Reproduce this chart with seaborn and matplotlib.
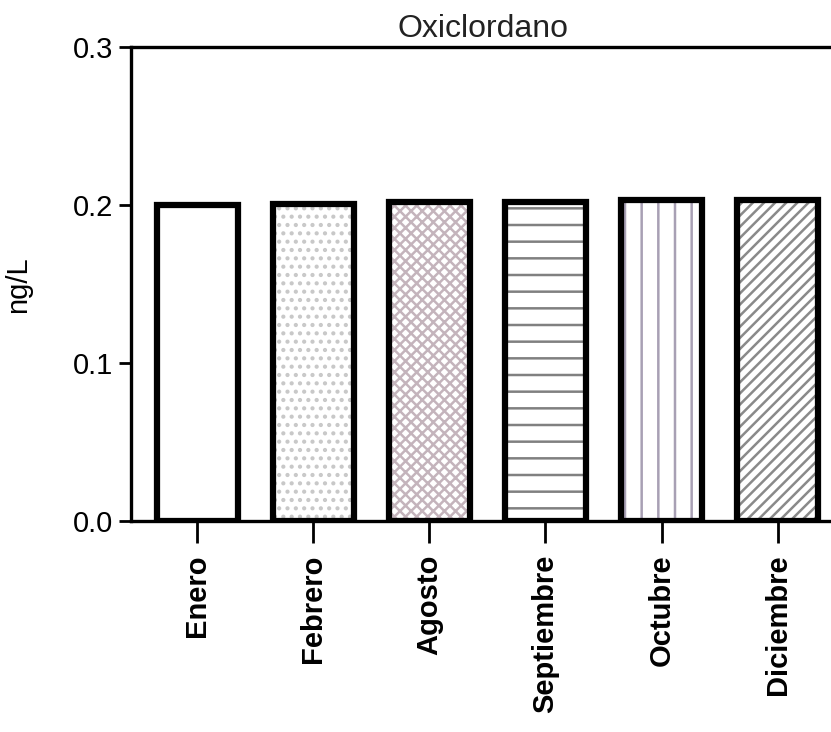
import pandas as pd
import seaborn as sns
import matplotlib.pyplot as plt

# datos
meses = ["Enero", "Febrero", "Agosto", "Septiembre", "Octubre", "Diciembre"]
valores = [0.200, 0.201, 0.202, 0.202, 0.203, 0.203]
tramas = ["", "..", "xxx", "-", "|", "///"]
colores_trama = ["#ffffff", "#c8c8c8", "#c4b4bc", "#808080", "#a8a0b4", "#8a8a8a"]

df = pd.DataFrame({"mes": meses, "ng/L": valores})

sns.set_style("ticks")
plt.rcParams["font.family"] = ["Liberation Sans", "DejaVu Sans"]
plt.rcParams["hatch.linewidth"] = 1.8

fig = plt.figure(figsize=(8.31, 7.32), dpi=100)
ax = fig.add_axes([0.1576, 0.288, 0.848, 0.6475])

# capa 1: tramas de color
sns.barplot(data=df, x="mes", y="ng/L", order=meses, color="white",
            width=0.7, linewidth=0, ax=ax)
for p, h, c in zip(ax.patches, tramas, colores_trama):
    p.set_hatch(h)
    p.set_edgecolor(c)
    p.set_linewidth(0)

# capa 2: contorno negro
sns.barplot(data=df, x="mes", y="ng/L", order=meses, fill=False, color="black",
            width=0.7, linewidth=4.5, ax=ax)

ax.set_xlim(-0.57, 5.5)
ax.set_ylim(0, 0.3)
ax.set_yticks([0.0, 0.1, 0.2, 0.3])
ax.set_yticklabels(["0.0", "0.1", "0.2", "0.3"])
ax.tick_params(axis="y", labelsize=21, length=9, width=2, direction="out",
               colors="black")
ax.tick_params(axis="x", labelsize=21, length=16, width=2, direction="out",
               labelrotation=90, pad=8, colors="black")
for lbl in ax.get_xticklabels():
    lbl.set_fontweight("bold")

for s in ax.spines.values():
    s.set_linewidth(2.4)
    s.set_color("black")
    s.set_visible(True)

ax.set_xlabel("")
ax.set_ylabel("ng/L", fontsize=21, color="black")
ax.yaxis.set_label_coords(-0.14, 0.5)
ax.set_title("Oxiclordano", fontsize=23, pad=7, color="#222222")

fig.savefig("out.png", dpi=100)
